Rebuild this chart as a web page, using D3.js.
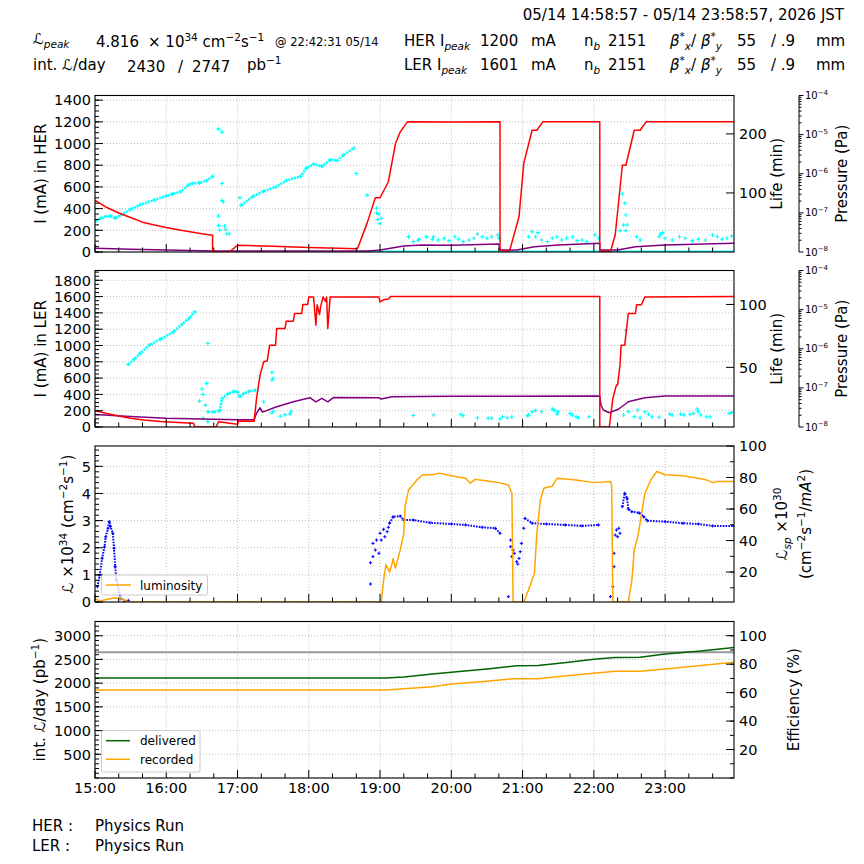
<!DOCTYPE html>
<html>
<head>
<meta charset="utf-8">
<script src="https://cdn.jsdelivr.net/npm/d3@7"></script>
<style>
  body { margin: 0; background: #fff; }
  text { font-family: "DejaVu Sans", "Noto Sans", sans-serif; fill: #000; white-space: pre; }
</style>
</head>
<body>
<svg id="chart" width="864" height="864"></svg>
<script>
// ---- data (time "HH:MM", value) ----
// HER panel
const herCurrent = [["15:00",475],["15:10",410],["15:20",360],["15:30",318],["15:40",275],["15:50",248],["16:00",225],["16:10",205],["16:20",187],["16:30",168],["16:39",155],["16:39",0],["16:53",0],["17:00",62],["17:30",52],["18:00",42],["18:41",30],["18:49",264],["18:56",500],["19:00",500],["19:07",648],["19:13",1000],["19:17",1108],["19:23",1200],["20:00",1198],["20:41",1200],["20:41",15],["20:49",8],["20:57",325],["21:01",817],["21:08",1123],["21:12",1123],["21:17",1200],["22:05",1200],["22:05",10],["22:14",5],["22:18",157],["22:24",800],["22:27",800],["22:34",1123],["22:39",1123],["22:44",1200],["23:58",1200]];
const herLifeDense = [["15:01",53],["15:05",57],["15:09",60],["15:13",61],["15:17",57],["15:22",63],["15:30",72],["15:38",80],["15:50",88],["16:00",95],["16:05",98],["16:12",102],["16:19",114],["16:22",116],["16:28",117],["16:34",121],["16:39",128],
  ["16:40",null],
  ["17:03",79],["17:13",94],["17:22",103],["17:32",110],["17:41",121],["17:53",128],["17:58",142],["18:04",149],["18:11",145],["18:18",156],["18:24",155],["18:29",164],["18:38",176]];
const herLifeScatter = [["16:44",208],["16:47",203],["16:47",116],["16:47",87],["16:48",85],["16:44",61],["16:44",45],["16:45",37],["16:49",44],["16:50",38],["16:51",31],["16:53",31],
  ["17:02",92],["18:40",133],["18:49",96],["18:57",74],["18:58",55],["18:59",64],["19:00",48],["19:01",57],["18:57",66],
  ["19:24",26],["19:28",17.5],["19:32",20],["19:33",21.5],["19:39",26],["19:44",21.5],["19:45",25.9],["19:49",20.3],["19:54",23.2],["19:58",19.2],["20:03",25.9],["20:06",21.5],["20:10",17.5],["20:15",20.3],["20:19",23.2],["20:22",30.5],["20:26",25.9],["20:30",23.2],["20:34",25.9],["20:39",28.8],["20:40",23.2],
  ["21:05",25.9],["21:08",34.4],["21:11",25.9],["21:13",32.8],["21:16",20.3],["21:21",17.5],["21:25",23.2],["21:29",25.9],["21:33",20.3],["21:37",23.2],["21:42",25.9],["21:46",19.2],["21:50",20.3],["21:54",17.5],["22:01",28.8],["22:04",23.2],
  ["22:22",36.2],["22:24",98.3],["22:26",82.5],["22:27",62.7],["22:25",45.8],["22:28",45.8],["22:27",36.2],
  ["22:36",25.9],["22:39",20.3],["22:55",25.9],["22:56",30.5],["22:58",32.8],["23:00",23.2],["23:06",20.3],["23:12",25.9],["23:17",23.2],["23:23",19.2],["23:28",21.5],["23:34",20.3],["23:40",28.8],["23:44",25.9],["23:48",21.5],["23:52",23.2],["23:56",27]];
const herLifeFloor = [["18:45",1.2],["23:58",1.2]];
const herPressure = [["15:00",1.24e-8],["15:30",1.17e-8],["16:00",1.12e-8],["16:30",1.08e-8],["16:40",1.06e-8],["18:50",1.06e-8],["19:00",1.12e-8],["19:20",1.42e-8],["19:35",1.51e-8],["20:00",1.48e-8],["20:40",1.6e-8],["20:41",1.12e-8],["20:55",1.12e-8],["21:10",1.37e-8],["21:30",1.51e-8],["22:05",1.67e-8],["22:05",1.12e-8],["22:20",1.12e-8],["22:35",1.37e-8],["23:00",1.51e-8],["23:58",1.67e-8]];

// LER panel
const lerCurrent = [["15:00",200],["15:10",165],["15:20",135],["15:30",108],["15:41",86],["15:55",68],["16:10",55],["16:23",45],["16:24",0],["16:42",0],["16:44",65],["17:00",33],["17:01",73],["17:14",70],["17:16",351],["17:19",637],["17:22",800],["17:25",810],["17:27",1004],["17:32",1004],["17:33",1208],["17:40",1208],["17:41",1298],["17:47",1298],["17:48",1392],["17:54",1392],["17:55",1502],["17:59",1502],["18:00",1596],["18:04",1596],["18:06",1249],["18:07",1500],["18:09",1380],["18:10",1480],["18:12",1596],["18:14",1540],["18:15",1596],["18:16",1208],["18:18",1596],["18:59",1596],["19:00",1534],["19:03",1560],["19:07",1570],["19:09",1600],["22:05",1600],["22:05",0],["22:13",0],["22:16",351],["22:19",514],["22:20",514],["22:22",759],["22:23",1004],["22:26",1004],["22:29",1392],["22:35",1392],["22:36",1500],["22:40",1500],["22:43",1596],["23:58",1600]];
const lerLifeDense = [["15:28",52.3],["15:33",56.5],["15:38",61.1],["15:46",67.7],["15:55",72.4],["16:06",78.2],["16:13",84.1],["16:19",88.9],["16:24",94.1],
  ["16:30",null],
  ["16:35",14.7],["16:40",14.5],["16:45",15.5],["16:47",25.2],["16:52",29],["16:57",31],["17:00",30.5],["17:02",26.6],["17:05",29.1],["17:10",31],["17:15",31.8]];
const lerLifeScatter = [["16:28",23.2],["16:30",32.8],["16:31",28.5],["16:31",9.5],["16:33",20],["16:34",37.3],["16:35",6.9],["16:35",69],
  ["17:22",22.7],["17:29",46],["17:30",41.3],["17:29",40],["17:29",13.8],["17:30",15.1],["17:36",11.1],["17:40",12.4],["17:44",13],["17:45",15.1],["19:28",11.8],
  ["19:45",12.1],["20:08",12.7],["20:10",11.6],["20:22",10],["20:31",9.5],["20:34",9.5],["20:41",9],["20:43",10.8],["20:47",10],["20:51",10.5],["21:04",11.6],["21:05",12.1],["21:08",14.7],["21:11",15.8],["21:16",14.7],["21:25",16.9],["21:27",15.8],["21:29",12.7],["21:30",14.7],["21:40",13.4],["21:42",12.1],["21:45",10.8],["21:47",10],["21:56",10.8],
  ["22:25",12.1],["22:27",79.6],["22:29",14.7],["22:34",10.8],["22:37",16.1],["22:39",10],["22:43",14.7],["22:46",12.7],["22:49",10.8],["22:55",10.3],["23:04",12.9],["23:06",12.1],["23:13",12.7],["23:16",12.1],["23:21",12.7],["23:24",13.4],["23:27",16.9],["23:28",14.7],["23:30",12.1],["23:35",10.8],["23:38",10.8],["23:54",13.4],["23:56",14.2]];
const lerPressure = [["15:00",2.1e-8],["15:30",1.85e-8],["16:00",1.67e-8],["16:30",1.6e-8],["17:00",1.54e-8],["17:14",1.54e-8],["17:16",2.24e-8],["17:19",3.1e-8],["17:21",2.4e-8],["17:33",3.3e-8],["17:47",4.4e-8],["18:01",5.6e-8],["18:06",4.4e-8],["18:11",5.4e-8],["18:16",4.4e-8],["18:21",5.7e-8],["18:59",5.6e-8],["19:01",5.2e-8],["19:10",5.9e-8],["20:00",6.1e-8],["22:05",6.2e-8],["22:06",3.64e-8],["22:08",2.72e-8],["22:13",2.32e-8],["22:21",2.88e-8],["22:29",4.42e-8],["22:35",4.9e-8],["22:43",5.59e-8],["23:00",6.18e-8],["23:58",6.18e-8]];

// luminosity panel (x1e34 and specific x1e30)
const luminosity = [["15:00",0.12],["15:04",0.03],["15:10",0.1],["15:17",0.16],["15:24",0.1],["15:28",0],["19:01",0],["19:03",0.81],["19:05",1.37],["19:08",1.1],["19:10",1.4],["19:11",1.6],["19:13",1.25],["19:17",1.92],["19:20",2.53],["19:21",3.52],["19:24",4.13],["19:31",4.5],["19:36",4.69],["19:44",4.69],["19:50",4.75],["20:00",4.65],["20:12",4.56],["20:16",4.38],["20:20",4.52],["20:29",4.47],["20:40",4.4],["20:48",4.31],["20:51",4.01],["20:52",0],["21:01",0],["21:05",0.44],["21:08",0.81],["21:10",1.06],["21:12",2.53],["21:15",3.76],["21:18",4.2],["21:25",4.27],["21:29",4.56],["21:45",4.5],["22:00",4.4],["22:14",4.44],["22:15",4.3],["22:16",0],["22:29",0],["22:32",0.81],["22:34",1.92],["22:37",2.41],["22:38",2.66],["22:40",3.21],["22:43",4.01],["22:48",4.5],["22:53",4.81],["23:00",4.69],["23:15",4.65],["23:28",4.56],["23:35",4.5],["23:40",4.4],["23:44",4.44],["23:58",4.44]];
const specLumDense = [["15:02",10.7],["15:04",18.1],["15:06",28.7],["15:08",36],["15:09",42.4],["15:11",47.8],["15:12",52],["15:13",49],["15:15",44.6],["15:16",35.1],["15:17",23.4],["15:18",15],["15:21",5.4],
  ["15:30",null],
  ["19:08",51],["19:11",55.1],["19:17",55.5],["19:20",53],["19:28",53],["19:42",51.3],["20:00",50.5],["20:12",49.9],["20:26",48.4],["20:37",47.8],["20:41",44.6],
  ["20:45",null],
  ["21:02",54.1],["21:08",51],["21:20",50.5],["21:36",49.9],["21:50",49.3],["22:04",49.9],
  ["22:10",null],
  ["22:24",61.5],["22:26",70],["22:28",66.8],["22:29",60],["22:32",58.3],["22:38",57.6],["22:42",55.1],["22:45",52.6],["23:00",52],["23:15",51],["23:28",50.5],["23:40",49.3],["23:58",49.3]];
const specLumScatter = [["15:22",3],["15:25",1.5],["15:28",2],
  ["18:52",12.4],["18:52",25.9],["18:54",29.8],["18:54",38.2],["18:56",34],["18:57",40.3],["18:59",31.9],["19:00",44.6],["19:01",40.3],["19:03",47.1],["19:04",42.4],["19:06",45.6],["19:07",48.4],
  ["20:48",4.4],["20:50",40.3],["20:50",36.1],["20:51",29.8],["20:52",34],["20:53",31.9],["20:55",26.6],["20:56",25.1],["20:57",28.7],["20:58",32.9],["20:59",38.2],["21:01",47.8],
  ["22:14",4.4],["22:16",10.7],["22:17",31.9],["22:17",23.4],["22:18",43.5],["22:19",46.7],["22:20",42.4],["22:21",47.8],["22:22",44.6]];

// integrated luminosity panel (pb^-1)
const delivered = [["15:00",2108],["19:05",2108],["19:20",2130],["19:44",2192],["20:00",2228],["20:30",2300],["20:55",2365],["21:13",2372],["21:35",2430],["22:00",2502],["22:18",2540],["22:39",2545],["23:00",2614],["23:30",2680],["23:58",2750]];
const recorded = [["15:00",1855],["19:05",1855],["19:20",1880],["19:44",1925],["20:00",1981],["20:30",2040],["20:51",2093],["21:13",2095],["21:35",2150],["22:00",2207],["22:18",2249],["22:39",2252],["23:00",2298],["23:30",2370],["23:58",2439]];
const target = [["15:00",2650],["23:58",2650]];

// ---- setup ----
const svg = d3.select("#chart");
const parseT = d3.timeParse("%Y-%m-%d %H:%M");
const T = s => parseT("2026-05-14 " + s);
const X0 = 95, X1 = 734;
const x = d3.scaleTime().domain([T("15:00"), T("23:58")]).range([X0, X1]);

const pHer = {top: 95.5, bottom: 252}, pLer = {top: 270.5, bottom: 427},
      pLum = {top: 446, bottom: 602}, pInt = {top: 621.5, bottom: 778};

const herI = d3.scaleLinear().domain([0, 1443]).range([pHer.bottom, pHer.top]);
const herLife = d3.scaleLinear().domain([0, 265]).range([pHer.bottom, pHer.top]);
const herP = d3.scaleLog().domain([1e-8, 1e-4]).range([pHer.bottom, pHer.top]);
const lerI = d3.scaleLinear().domain([0, 1920]).range([pLer.bottom, pLer.top]);
const lerLife = d3.scaleLinear().domain([2.6, 127]).range([pLer.bottom, pLer.top]);
const lerP = d3.scaleLog().domain([1e-8, 1e-4]).range([pLer.bottom, pLer.top]);
const lumL = d3.scaleLinear().domain([0, 5.75]).range([pLum.bottom, pLum.top]);
const lumSp = d3.scaleLinear().domain([1, 100]).range([pLum.bottom, pLum.top]);
const intL = d3.scaleLinear().domain([0, 3300]).range([pInt.bottom, pInt.top]);
const intEff = d3.scaleLinear().domain([0, 110]).range([pInt.bottom, pInt.top]);

const FS = 14.5;

// text with super/subscripts
function rich(g, xx, yy, parts, fs, anchor) {
  const t = g.append("text").attr("x", xx).attr("y", yy).attr("font-size", fs)
    .attr("text-anchor", anchor || "start");
  let shift = 0;
  parts.forEach(p => {
    if (typeof p === "string") p = {t: p};
    const ns = p.sup ? -0.42 * fs : p.sub ? 0.25 * fs : 0;
    const ts = t.append("tspan").text(p.t).attr("dy", ns - shift);
    if (p.sup || p.sub) ts.attr("font-size", fs * 0.7);
    if (p.i) ts.attr("font-style", "italic");
    if (p.dx) ts.attr("dx", p.dx);
    shift = ns;
  });
  return t;
}
function vlabel(cx, cy, parts, fs) {
  const g = svg.append("g").attr("transform", `translate(${cx},${cy}) rotate(-90)`);
  rich(g, 0, 0.36 * fs, parts, fs, "middle");
}

function clipFor(id, p) {
  svg.append("clipPath").attr("id", id).append("rect")
    .attr("x", X0).attr("y", p.top).attr("width", X1 - X0).attr("height", p.bottom - p.top);
  return svg.append("g").attr("clip-path", `url(#${id})`);
}

function grid(p, yScale, yVals) {
  const g = svg.append("g").attr("stroke", "#b0b0b0").attr("stroke-width", 0.8).attr("stroke-dasharray", "1,2");
  x.ticks(d3.timeHour.every(1)).forEach(t => {
    g.append("line").attr("x1", x(t)).attr("x2", x(t)).attr("y1", p.top).attr("y2", p.bottom);
  });
  yVals.forEach(v => {
    g.append("line").attr("x1", X0).attr("x2", X1).attr("y1", yScale(v)).attr("y2", yScale(v));
  });
}

function line(g, data, sy, color, w, dash) {
  const gen = d3.line().defined(d => d[1] != null).x(d => x(T(d[0]))).y(d => sy(d[1]));
  const p = g.append("path").attr("d", gen(data)).attr("fill", "none").attr("stroke", color)
    .attr("stroke-width", w).attr("stroke-linejoin", "round");
  if (dash) p.attr("stroke-dasharray", dash);
}
function plus(g, data, sy, color, r, sw) {
  const p = d3.path();
  data.filter(d => d[1] != null).forEach(d => {
    const cx = x(T(d[0])), cy = sy(d[1]);
    p.moveTo(cx - r, cy); p.lineTo(cx + r, cy);
    p.moveTo(cx, cy - r); p.lineTo(cx, cy + r);
  });
  g.append("path").attr("d", p.toString()).attr("fill", "none").attr("stroke", color).attr("stroke-width", sw);
}

function frame(p, showX) {
  const g = svg.append("g").attr("stroke", "#000");
  // x ticks (inward)
  x.ticks(d3.timeHour.every(1)).forEach(t => {
    g.append("line").attr("x1", x(t)).attr("x2", x(t)).attr("y1", p.bottom).attr("y2", p.bottom - 8);
  });
  x.ticks(d3.timeMinute.every(20)).filter(t => t.getMinutes() !== 0).forEach(t => {
    g.append("line").attr("x1", x(t)).attr("x2", x(t)).attr("y1", p.bottom).attr("y2", p.bottom - 4.5);
  });
  svg.append("rect").attr("x", X0).attr("y", p.top).attr("width", X1 - X0).attr("height", p.bottom - p.top)
    .attr("fill", "none").attr("stroke", "#000").attr("stroke-width", 1.1);
  if (showX) {
    x.ticks(d3.timeHour.every(1)).forEach(t => {
      svg.append("text").attr("x", x(t)).attr("y", p.bottom + 15).attr("font-size", FS)
        .attr("text-anchor", "middle").text(d3.timeFormat("%H:%M")(t));
    });
  }
}

function yAxis(side, scale, majors, minors, fmt, p) {
  const g = svg.append("g").attr("stroke", "#000");
  const x0 = side === "left" ? X0 : X1, dir = side === "left" ? 1 : -1;
  minors.forEach(v => {
    const yy = scale(v);
    if (yy < p.top - 0.5 || yy > p.bottom + 0.5) return;
    g.append("line").attr("x1", x0).attr("x2", x0 + dir * 4).attr("y1", yy).attr("y2", yy);
  });
  majors.forEach(v => {
    const yy = scale(v);
    g.append("line").attr("x1", x0).attr("x2", x0 + dir * 8).attr("y1", yy).attr("y2", yy);
    svg.append("text").attr("x", side === "left" ? x0 - 4 : x0 + 5).attr("y", yy).attr("dy", "0.36em")
      .attr("font-size", FS).attr("text-anchor", side === "left" ? "end" : "start").text(fmt(v));
  });
}

function pressureAxis(scale, p) {
  const ax = 799;
  const g = svg.append("g").attr("stroke", "#000");
  g.append("line").attr("x1", ax).attr("x2", ax).attr("y1", p.top).attr("y2", p.bottom);
  for (let e = -8; e <= -4; e++) {
    const yy = scale(Math.pow(10, e));
    g.append("line").attr("x1", ax).attr("x2", ax + 4.5).attr("y1", yy).attr("y2", yy);
    rich(svg, ax + 6, yy + 3.5, ["10", {t: "−" + (-e), sup: 1}], 10);
    if (e < -4) for (let k = 2; k <= 9; k++) {
      const ym = scale(k * Math.pow(10, e));
      g.append("line").attr("x1", ax).attr("x2", ax + 2.5).attr("y1", ym).attr("y2", ym);
    }
  }
  vlabel(842, (p.top + p.bottom) / 2, ["Pressure (Pa)"], 15);
}

// ---- header ----
svg.append("text").attr("x", 844).attr("y", 20).attr("font-size", 15).attr("text-anchor", "end")
  .text("05/14 14:58:57 - 05/14 23:58:57, 2026 JST");
const hdr = svg.append("g");
rich(hdr, 33, 44, [{t: "ℒ", i: 1}, {t: "peak", sub: 1, i: 1}], 15);
hdr.append("text").attr("x", 96).attr("y", 47).attr("font-size", 15).text("4.816");
rich(hdr, 148, 47, ["× 10", {t: "34", sup: 1}, " cm", {t: "−2", sup: 1}, "s", {t: "−1", sup: 1}], 15);
hdr.append("text").attr("x", 275).attr("y", 46).attr("font-size", 11.5).text("@ 22:42:31 05/14");
rich(hdr, 33, 70, ["int. ", {t: "ℒ", i: 1}, "/day"], 15);
hdr.append("text").attr("x", 127).attr("y", 72).attr("font-size", 15).text("2430");
hdr.append("text").attr("x", 178).attr("y", 72).attr("font-size", 15).text("/");
hdr.append("text").attr("x", 192).attr("y", 72).attr("font-size", 15).text("2747");
rich(hdr, 247, 70, ["pb", {t: "−1", sup: 1}], 15);
[["HER", 1200, 46], ["LER", 1601, 70]].forEach(([ring, ipk, yy]) => {
  rich(hdr, 404, yy, [ring + " I", {t: "peak", sub: 1, i: 1}], 15);
  hdr.append("text").attr("x", 480).attr("y", yy).attr("font-size", 15).text(ipk);
  hdr.append("text").attr("x", 531).attr("y", yy).attr("font-size", 15).text("mA");
  rich(hdr, 584, yy, ["n", {t: "b", sub: 1, i: 1}], 15);
  hdr.append("text").attr("x", 608).attr("y", yy).attr("font-size", 15).text("2151");
  rich(hdr, 670, yy, [{t: "β", i: 1}, {t: "*", sup: 1}, {t: "x", sub: 1, i: 1}, "/ ",
    {t: "β", i: 1}, {t: "*", sup: 1}, {t: "y", sub: 1, i: 1}], 15);
  hdr.append("text").attr("x", 737).attr("y", yy).attr("font-size", 15).text("55");
  hdr.append("text").attr("x", 771).attr("y", yy).attr("font-size", 15).text("/ .9");
  hdr.append("text").attr("x", 816).attr("y", yy).attr("font-size", 15).text("mm");
});

// ---- panel 1: HER ----
grid(pHer, herI, d3.range(0, 1401, 200));
{
  const g = clipFor("c1", pHer);
  line(g, herLifeFloor, herLife, "#00ffff", 1.5);
  line(g, herLifeDense, herLife, "#00ffff", 2.6, "2,1");
  plus(g, herLifeDense, herLife, "#00ffff", 2, 1.1);
  plus(g, herLifeScatter, herLife, "#00ffff", 2, 1.1);
  line(g, herPressure, herP, "#800080", 1.5);
  line(g, herCurrent, herI, "#ff0000", 1.5);
}
frame(pHer, false);
yAxis("left", herI, d3.range(0, 1401, 200), d3.range(0, 1441, 50), d3.format("d"), pHer);
yAxis("right", herLife, [100, 200], [], d3.format("d"), pHer);
pressureAxis(herP, pHer);
vlabel(41, (pHer.top + pHer.bottom) / 2, ["I (mA) in HER"], 15);
vlabel(777, (pHer.top + pHer.bottom) / 2, ["Life (min)"], 15);

// ---- panel 2: LER ----
grid(pLer, lerI, d3.range(0, 1801, 200));
{
  const g = clipFor("c2", pLer);
  line(g, lerLifeDense, lerLife, "#00ffff", 2.6, "2,1");
  plus(g, lerLifeDense, lerLife, "#00ffff", 2, 1.1);
  plus(g, lerLifeScatter, lerLife, "#00ffff", 2, 1.1);
  line(g, lerPressure, lerP, "#800080", 1.5);
  line(g, lerCurrent, lerI, "#ff0000", 1.5);
}
frame(pLer, false);
yAxis("left", lerI, d3.range(0, 1801, 200), d3.range(0, 1901, 50), d3.format("d"), pLer);
yAxis("right", lerLife, [50, 100], [], d3.format("d"), pLer);
pressureAxis(lerP, pLer);
vlabel(41, (pLer.top + pLer.bottom) / 2, ["I (mA) in LER"], 15);
vlabel(777, (pLer.top + pLer.bottom) / 2, ["Life (min)"], 15);

// ---- panel 3: luminosity ----
grid(pLum, lumL, d3.range(0, 6, 1));
{
  const g = clipFor("c3", pLum);
  line(g, specLumDense, lumSp, "#0000ff", 2, "1.6,1.2");
  plus(g, specLumDense, lumSp, "#0000ff", 1.6, 1);
  plus(g, specLumScatter, lumSp, "#0000ff", 1.6, 1);
  line(g, luminosity, lumL, "#ffa500", 1.5);
}
frame(pLum, false);
yAxis("left", lumL, d3.range(0, 6, 1), d3.range(0, 5.75, 0.2), d3.format("d"), pLum);
yAxis("right", lumSp, [20, 40, 60, 80, 100], d3.range(10, 100, 10), d3.format("d"), pLum);
vlabel(68, (pLum.top + pLum.bottom) / 2, [{t: "ℒ", i: 1}, " ×10", {t: "34", sup: 1}, " (cm", {t: "−2", sup: 1}, "s", {t: "−1", sup: 1}, ")"], 15);
vlabel(782, (pLum.top + pLum.bottom) / 2, [{t: "ℒ", i: 1}, {t: "sp", sub: 1, i: 1}, " ×10", {t: "30", sup: 1}], 15);
vlabel(806, (pLum.top + pLum.bottom) / 2, ["(cm", {t: "−2", sup: 1}, "s", {t: "−1", sup: 1}, "/", {t: "mA", i: 1}, {t: "2", sup: 1}, ")"], 15);
{
  const lg = svg.append("g");
  lg.append("rect").attr("x", 101.5).attr("y", 575).attr("width", 106).attr("height", 20).attr("rx", 2)
    .attr("fill", "#fff").attr("fill-opacity", 0.8).attr("stroke", "#ccc");
  lg.append("line").attr("x1", 106).attr("x2", 131).attr("y1", 585).attr("y2", 585).attr("stroke", "#ffa500").attr("stroke-width", 1.5);
  lg.append("text").attr("x", 140).attr("y", 589.5).attr("font-size", 12).text("luminosity");
}

// ---- panel 4: integrated luminosity ----
grid(pInt, intL, d3.range(0, 3001, 500));
{
  const g = clipFor("c4", pInt);
  line(g, target, intL, "#999999", 2);
  line(g, delivered, intL, "#006400", 1.5);
  line(g, recorded, intL, "#ffa500", 1.5);
}
frame(pInt, true);
yAxis("left", intL, d3.range(500, 3001, 500), d3.range(0, 3300, 100), d3.format("d"), pInt);
yAxis("right", intEff, [20, 40, 60, 80, 100], d3.range(0, 110, 10), d3.format("d"), pInt);
vlabel(40, (pInt.top + pInt.bottom) / 2, ["int. ", {t: "ℒ", i: 1}, "/day (pb", {t: "−1", sup: 1}, ")"], 15);
vlabel(794, (pInt.top + pInt.bottom) / 2, ["Efficiency (%)"], 15);
{
  const lg = svg.append("g");
  lg.append("rect").attr("x", 101.5).attr("y", 730.5).attr("width", 98.5).attr("height", 41.5).attr("rx", 2)
    .attr("fill", "#fff").attr("fill-opacity", 0.8).attr("stroke", "#ccc");
  [["delivered", "#006400", 740.7], ["recorded", "#ffa500", 759.3]].forEach(([name, c, yy]) => {
    lg.append("line").attr("x1", 106).attr("x2", 130).attr("y1", yy).attr("y2", yy).attr("stroke", c).attr("stroke-width", 1.5);
    lg.append("text").attr("x", 140).attr("y", yy + 4.2).attr("font-size", 12).text(name);
  });
}

// ---- footer ----
[["HER :", 831], ["LER :", 851]].forEach(([ring, yy]) => {
  svg.append("text").attr("x", 32).attr("y", yy).attr("font-size", 15).text(ring);
  svg.append("text").attr("x", 95).attr("y", yy).attr("font-size", 15).text("Physics Run");
});
</script>
</body>
</html>
